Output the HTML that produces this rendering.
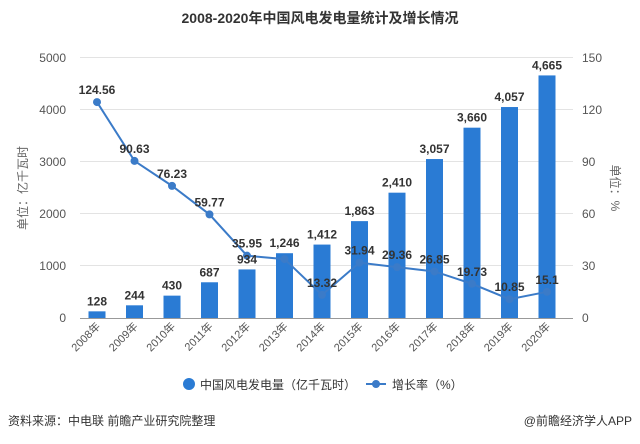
<!DOCTYPE html>
<html><head><meta charset="utf-8"><style>
body{margin:0;background:#fff;width:640px;height:439px;overflow:hidden;font-family:"Liberation Sans","Noto Sans CJK SC",sans-serif}
</style></head><body>
<svg width="640" height="439" xmlns="http://www.w3.org/2000/svg" font-family="Liberation Sans, Noto Sans CJK SC, sans-serif">
<text x="320" y="23" text-anchor="middle" font-size="14" font-weight="bold" fill="#333">2008-2020年中国风电发电量统计及增长情况</text>
<g stroke="#e3e3e3" stroke-width="1">
<line x1="80" y1="57.5" x2="573" y2="57.5"/><line x1="80" y1="109.5" x2="573" y2="109.5"/><line x1="80" y1="161.5" x2="573" y2="161.5"/><line x1="80" y1="213.5" x2="573" y2="213.5"/><line x1="80" y1="265.5" x2="573" y2="265.5"/>
</g>
<line x1="80" y1="318.5" x2="573" y2="318.5" stroke="#999"/>
<g font-size="12" fill="#555" text-anchor="end">
<text x="66" y="62">5000</text><text x="66" y="114">4000</text><text x="66" y="166">3000</text><text x="66" y="218">2000</text><text x="66" y="270">1000</text><text x="66" y="322">0</text>
</g>
<g font-size="12" fill="#555">
<text x="582" y="62">150</text><text x="582" y="114">120</text><text x="582" y="166">90</text><text x="582" y="218">60</text><text x="582" y="270">30</text><text x="582" y="322">0</text>
</g>
<text transform="translate(27,188) rotate(-90)" text-anchor="middle" font-size="12" fill="#666">单位：亿千瓦时</text>
<text transform="translate(611,188) rotate(90)" text-anchor="middle" font-size="12" fill="#666">单位：%</text>
<g id="bars" fill="#2a7bd4"></g>
<g id="xl" font-size="11" fill="#555"></g>
<polyline id="ln" fill="none" stroke="#3b7bc8" stroke-width="2"/>
<g id="pts" fill="#3b7bc8"></g>
<g id="lb" font-size="12" font-weight="bold" fill="#333" text-anchor="middle"></g>
<circle cx="189" cy="384" r="6" fill="#2a7bd4"/>
<text x="200" y="389" font-size="12" fill="#333">中国风电发电量（亿千瓦时）</text>
<line x1="366" y1="384" x2="386" y2="384" stroke="#3b7bc8" stroke-width="2"/><circle cx="376" cy="384" r="4" fill="#3b7bc8"/>
<text x="392" y="389" font-size="12" fill="#333">增长率（%）</text>
<text x="8" y="425" font-size="12" fill="#333">资料来源：中电联 前瞻产业研究院整理</text>
<text x="632" y="425" font-size="12" fill="#333" text-anchor="end">@前瞻经济学人APP</text>
</svg>
<script>
var v=[128,244,430,687,934,1246,1412,1863,2410,3057,3660,4057,4665];
var r=[124.56,90.63,76.23,59.77,35.95,13.32,31.94,29.36,26.85,19.73,10.85,15.1];
var ns="http://www.w3.org/2000/svg";
function el(t,a,p,txt){var e=document.createElementNS(ns,t);for(var k in a)e.setAttribute(k,a[k]);if(txt!=null)e.textContent=txt;document.getElementById(p).appendChild(e);return e;}
var pts=[];
for(var i=0;i<13;i++){var cx=97+i*37.5;var h=v[i]*260/5000;
el("rect",{x:cx-8.5,y:318-h,width:17,height:h},"bars");
el("text",{x:0,y:0,transform:"translate("+(cx+4)+",327) rotate(-45)","text-anchor":"end"},"xl",(2008+i)+"年");
el("text",{x:cx,y:318-h-6},"lb",v[i].toLocaleString("en-US"));
if(i<12){}}
// growth line: 2008..2020 -> 13 categories but 12 rates? map 2008..2020 skipping 2013
var idx=[0,1,2,3,4,6,7,8,9,10,11,12];
var rr=[124.56,90.63,76.23,59.77,35.95,13.32,31.94,29.36,26.85,19.73,10.85,15.1];
// actual: 2012 35.95, 2013 ~34 (no label), 2014 13.32
var full=[124.56,90.63,76.23,59.77,35.95,34.0,13.32,31.94,29.36,26.85,19.73,10.85,15.1];
var labs=["124.56","90.63","76.23","59.77","35.95","","13.32","31.94","29.36","26.85","19.73","10.85","15.1"];
for(var i=0;i<13;i++){var cx=97+i*37.5;var y=318-full[i]*260/150;pts.push(cx+","+y);
el("circle",{cx:cx,cy:y,r:4},"pts");
if(labs[i])el("text",{x:cx,y:y-8},"lb",labs[i]);}
document.getElementById("ln").setAttribute("points",pts.join(" "));
</script>
</body></html>
